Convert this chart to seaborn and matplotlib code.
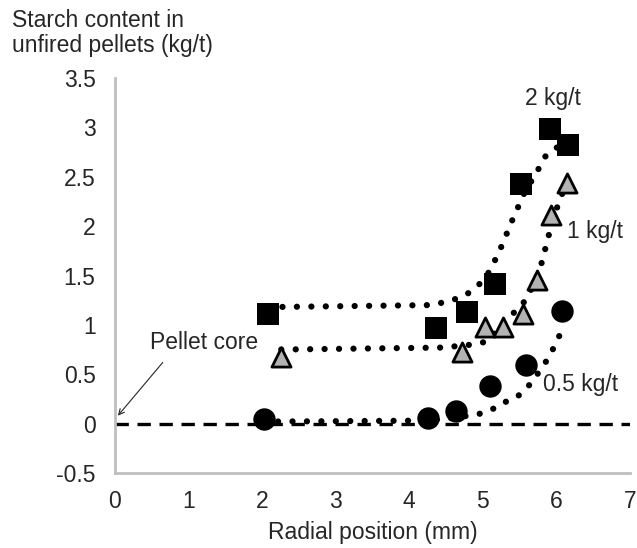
import numpy as np
import pandas as pd
import matplotlib
matplotlib.use("Agg")
import matplotlib.pyplot as plt
import seaborn as sns

# %%
# Data read from the chart: measured points
sq_x = [2.08, 4.37, 4.78, 5.16, 5.52, 5.91, 6.16]
sq_y = [1.11, 0.97, 1.13, 1.41, 2.43, 2.98, 2.82]
tri_x = [2.26, 4.71, 5.03, 5.28, 5.54, 5.73, 5.93, 6.14]
tri_y = [0.67, 0.72, 0.98, 0.98, 1.11, 1.45, 2.11, 2.44]
circ_x = [2.02, 4.26, 4.64, 5.10, 5.59, 6.07]
circ_y = [0.05, 0.06, 0.13, 0.38, 0.59, 1.14]

# dotted trend lines
sq_trend_x = [2.08, 4.24, 4.42, 4.62, 4.80, 4.95, 5.10, 5.25, 5.40, 5.56, 5.75, 5.84, 5.99, 6.12]
sq_trend_y = [1.18, 1.20, 1.22, 1.26, 1.32, 1.41, 1.55, 1.79, 2.06, 2.33, 2.57, 2.70, 2.79, 2.84]
tri_trend_x = [2.26, 4.46, 4.85, 5.05, 5.57, 5.70, 5.80, 5.90, 6.00, 6.09]
tri_trend_y = [0.75, 0.77, 0.80, 0.83, 1.24, 1.42, 1.63, 1.92, 2.17, 2.35]
circ_trend_x = [2.02, 4.26, 4.64, 4.96, 5.14, 5.31, 5.48, 5.62, 5.75, 5.86, 5.95, 6.04]
circ_trend_y = [0.02, 0.03, 0.06, 0.10, 0.15, 0.22, 0.28, 0.38, 0.51, 0.63, 0.75, 0.89]

# %%
sns.set_style("white")
plt.rcParams['font.family'] = ['Liberation Sans', 'DejaVu Sans']
txt = '#262626'
fs = 16.5

fig = plt.figure(figsize=(6.37, 5.48), dpi=100)
ax = fig.add_axes([0.1805, 0.137, 0.8085, 0.7205])

ax.axhline(0, color='black', lw=2.4, ls=(0, (4, 2.6)), zorder=1)

dotted = (0, (0.01, 2.3))
for x, y in [(sq_trend_x, sq_trend_y), (tri_trend_x, tri_trend_y), (circ_trend_x, circ_trend_y)]:
    sns.lineplot(x=x, y=y, ax=ax, color='black', lw=4.5, linestyle=dotted,
                 dash_capstyle='round', sort=False, zorder=2)

sns.scatterplot(x=sq_x, y=sq_y, ax=ax, marker='s', s=230, color='black',
                edgecolor='black', linewidth=0, zorder=3)
sns.scatterplot(x=tri_x, y=tri_y, ax=ax, marker='^', s=190, color='#b3b3b3',
                edgecolor='black', linewidth=2, zorder=3)
sns.scatterplot(x=circ_x, y=circ_y, ax=ax, marker='o', s=260, color='black',
                edgecolor='black', linewidth=0, zorder=3)

ax.set_xlim(0, 7)
ax.set_ylim(-0.5, 3.5)
ax.set_xticks(range(0, 8))
ax.set_yticks(np.arange(-0.5, 3.51, 0.5))
ax.set_yticklabels(['-0.5', '0', '0.5', '1', '1.5', '2', '2.5', '3', '3.5'])
ax.tick_params(axis='both', labelsize=fs, colors='#bfbfbf', labelcolor=txt,
               length=5, width=1.8, direction='out')
ax.tick_params(axis='y', pad=9)
ax.tick_params(axis='x', pad=7)
for s in ['top', 'right']:
    ax.spines[s].set_visible(False)
for s in ['left', 'bottom']:
    ax.spines[s].set_color('#bfbfbf')
    ax.spines[s].set_linewidth(2)

ax.set_xlabel('Radial position (mm)', fontsize=fs, color=txt, labelpad=6)
ax.set_ylabel('')
fig.text(0.019, 0.984, 'Starch content in\nunfired pellets (kg/t)', fontsize=fs,
         color=txt, va='top', ha='left', linespacing=1.1)

ax.text(5.95, 3.29, '2 kg/t', fontsize=fs, ha='center', va='center', color=txt)
ax.text(6.15, 1.95, '1 kg/t', fontsize=fs, ha='left', va='center', color=txt)
ax.text(5.82, 0.40, '0.5 kg/t', fontsize=fs, ha='left', va='center', color=txt)
ax.text(0.47, 0.82, 'Pellet core', fontsize=fs, ha='left', va='center', color=txt)
ax.annotate('', xy=(0.04, 0.08), xytext=(0.65, 0.62),
            arrowprops=dict(arrowstyle='->', color=txt, lw=0.8,
                            shrinkA=0, shrinkB=0))

fig.savefig('out.png', dpi=100)
